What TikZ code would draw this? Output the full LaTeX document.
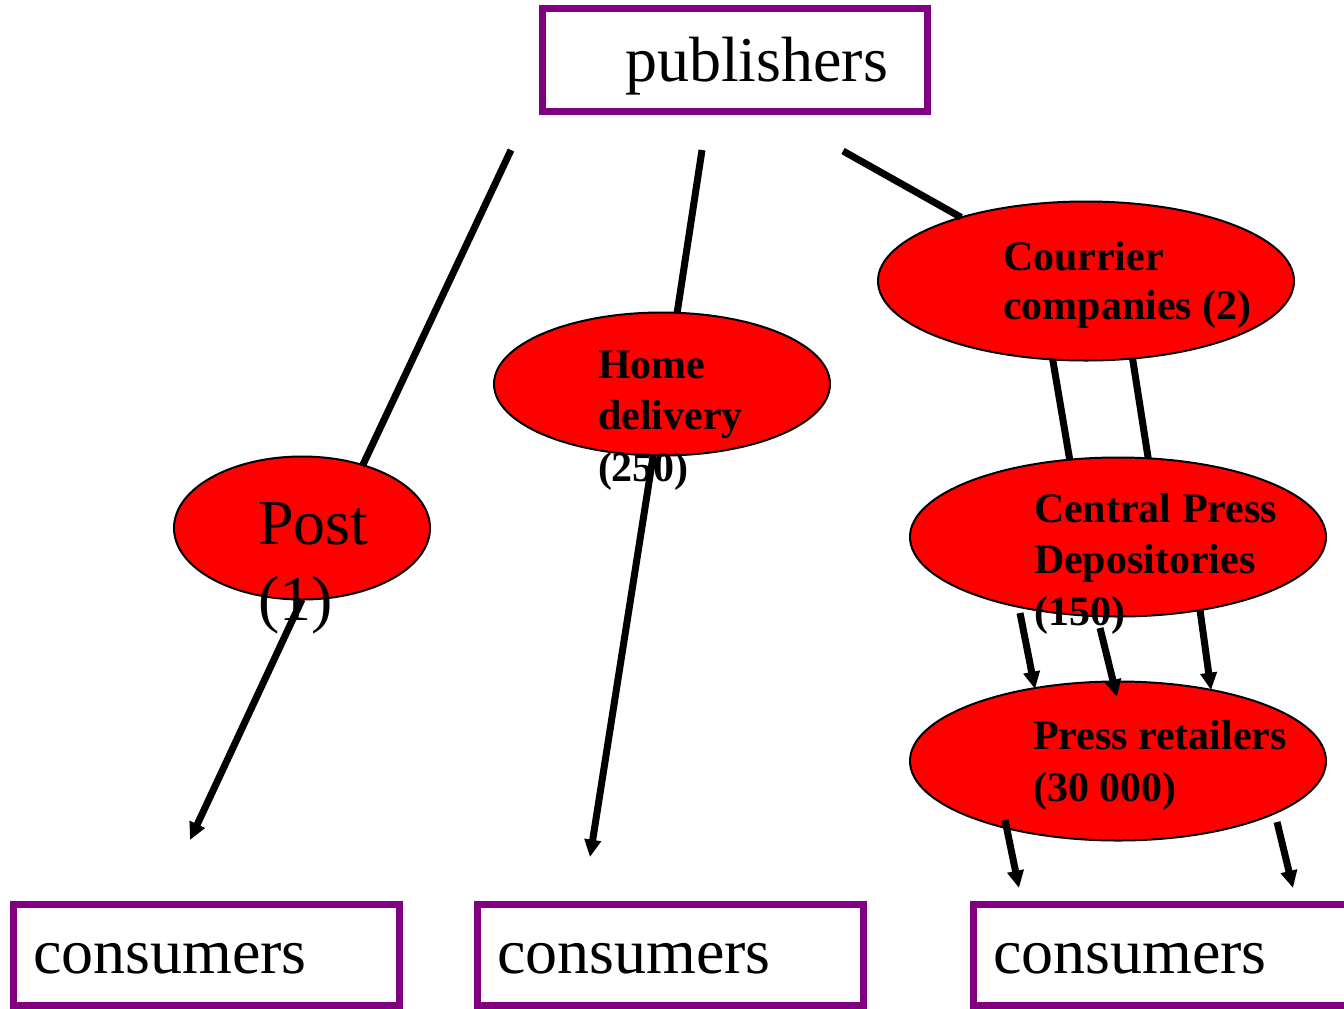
\documentclass[tikz,border=0pt]{standalone}
\usepackage{fontspec}
\setmainfont{Liberation Serif}
\usetikzlibrary{shapes.geometric,arrows.meta}
\definecolor{boxpurple}{RGB}{128,0,128}
\begin{document}
\begin{tikzpicture}[x=0.75pt,y=-0.75pt,
  pbox/.style={draw=boxpurple,line width=5.25pt,rectangle,inner sep=0pt,outer sep=0pt,
    minimum width=289.5pt,minimum height=76pt},
  ell/.style={ellipse,draw=black,fill=red,line width=1.5pt,inner sep=0pt,outer sep=0pt},
  bigtxt/.style={inner sep=0pt,outer sep=0pt,align=left,font=\fontsize{48}{57}\selectfont},
  btxt/.style={inner sep=0pt,outer sep=0pt,align=left,font=\fontsize{31.5}{38.5}\selectfont\bfseries},
  conn/.style={line width=5.25pt},
  arr/.style={conn,-{Triangle[length=13pt,width=12pt]}}
]
\useasboundingbox (0,0) rectangle (1344,1008);
% boxes
\node[pbox,minimum width=288.75pt,minimum height=77.25pt] (pub) at (734.5,59.5) {};
\node[pbox,minimum height=75.75pt] (cons1) at (206,954.5) {};
\node[pbox,minimum height=75.75pt] (cons2) at (670,954.5) {};
\node[pbox,minimum height=75.75pt] (cons3) at (1166,954.5) {};
\node[bigtxt,anchor=base west] (pubt) at (625,81) {publishers};
\node[bigtxt,anchor=base west] (cons1t) at (33,973) {consumers};
\node[bigtxt,anchor=base west] (cons2t) at (497,973) {consumers};
\node[bigtxt,anchor=base west] (cons3t) at (993,973) {consumers};
% ellipses
\node[ell,minimum width=192pt,minimum height=107.25pt] (post) at (302,528) {};
\node[ell,minimum width=252pt,minimum height=107.25pt] (home) at (662,384) {};
\node[ell,minimum width=312pt,minimum height=119.25pt] (cour) at (1086,281) {};
\node[ell,minimum width=312pt,minimum height=119.25pt] (cpd) at (1118,537) {};
\node[ell,minimum width=312pt,minimum height=119.25pt] (ret) at (1118,761) {};
% texts (base anchor = baseline of last line)
\node[bigtxt,anchor=base west] (postt) at (258,620) {Post\\(1)};
\node[btxt,anchor=base west] (homet) at (598,481) {Home\\delivery\\(250)};
\node[btxt,anchor=base west,font=\fontsize{31.5}{36.5}\selectfont\bfseries] (court) at (1003,319) {Courrier\\companies (2)};
\node[btxt,anchor=base west] (cpdt) at (1034,625) {Central Press\\Depositories\\(150)};
\node[btxt,anchor=base west] (rett) at (1033,801) {Press retailers\\(30 000)};
% free ends
\coordinate (s1) at (511,150);
\coordinate (s2) at (702,150);
\coordinate (s3) at (843,151);
\coordinate (e1) at (190,840);
\coordinate (e2) at (590,857);
\coordinate (a1s) at (1020,613);
\coordinate (a1e) at (1035,689);
\coordinate (a2s) at (1100,628);
\coordinate (a2e) at (1117,697);
\coordinate (a3s) at (1200,610);
\coordinate (a3e) at (1211,690);
\coordinate (b1s) at (1005,820);
\coordinate (b1e) at (1019,888);
\coordinate (b2s) at (1277,822);
\coordinate (b2e) at (1293,888);
% connectors
\draw[conn] (s1) -- (post.46);
\draw[arr] (post.south) -- (e1);
\draw[conn] (s2) -- (home.78);
\draw[arr] (home.263) -- (e2);
\draw[conn] (s3) -- (cour.153.8);
\draw[conn] (cour.247.3) -- (cpd.122.1);
\draw[conn] (cour.301.1) -- (cpd.69.2);
\draw[arr] (a1s) -- (a1e);
\draw[arr] (a2s) -- (a2e);
\draw[arr] (a3s) -- (a3e);
\draw[arr] (b1s) -- (b1e);
\draw[arr] (b2s) -- (b2e);
\end{tikzpicture}
\end{document}
